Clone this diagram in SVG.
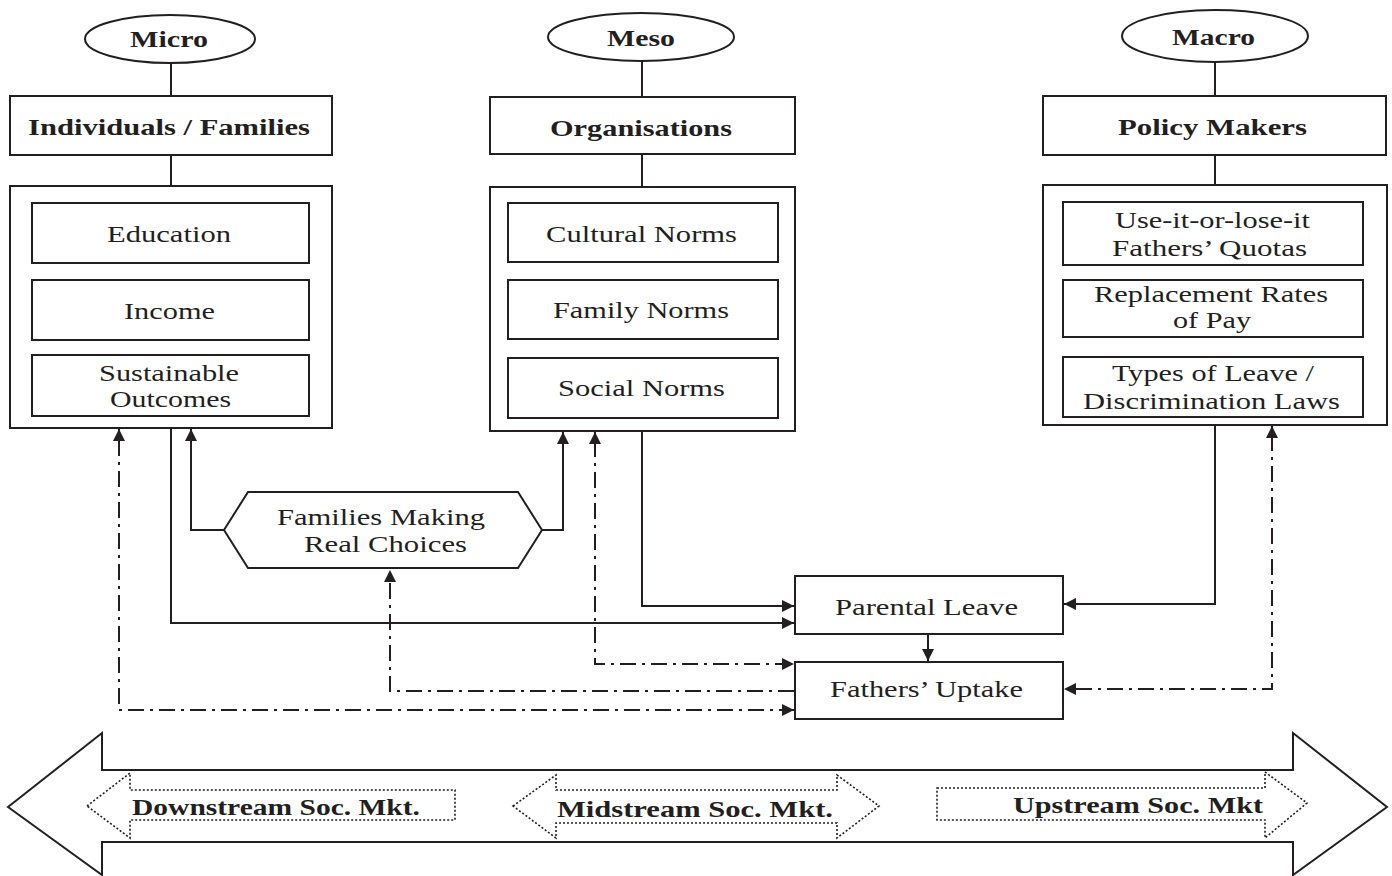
<svg xmlns="http://www.w3.org/2000/svg" width="1392" height="876" viewBox="0 0 1392 876">
<defs>
<style>
.b{fill:#fff;stroke:#231f20;stroke-width:2}
.t{font-family:"Liberation Serif","Times New Roman",serif;font-size:23px;fill:#231f20}
.tb{font-family:"Liberation Serif","Times New Roman",serif;font-size:23px;font-weight:bold;fill:#231f20}
.c{fill:none;stroke:#231f20;stroke-width:2}
.dd{fill:none;stroke:#231f20;stroke-width:2;stroke-dasharray:16 6 3 6}
.dot{fill:#fff;stroke:#231f20;stroke-width:1.6;stroke-dasharray:2 2}
</style>
<marker id="ah" viewBox="0 0 12 12" refX="12" refY="6" markerWidth="12" markerHeight="12" markerUnits="userSpaceOnUse" orient="auto">
<path d="M0,0 L12,6 L0,12 Z" fill="#231f20"/>
</marker>
</defs>
<rect width="1392" height="876" fill="#fff"/>

<g id="connectors">
<line class="c" x1="171" y1="63" x2="171" y2="96"/>
<line class="c" x1="171" y1="155" x2="171" y2="186"/>
<line class="c" x1="642" y1="61" x2="642" y2="97"/>
<line class="c" x1="642" y1="154" x2="642" y2="187"/>
<line class="c" x1="1215" y1="62" x2="1215" y2="96"/>
<line class="c" x1="1215" y1="155" x2="1215" y2="185"/>
<polyline class="c" points="171,428 171,623 794,623" marker-end="url(#ah)"/>
<polyline class="c" points="642,431 642,606 794,606" marker-end="url(#ah)"/>
<polyline class="c" points="1215,425 1215,604 1064,604" marker-end="url(#ah)"/>
<polyline class="c" points="928,634 928,661" marker-end="url(#ah)"/>
<polyline class="c" points="224,530 191,530 191,429" marker-end="url(#ah)"/>
<polyline class="c" points="542,530 563,530 563,432" marker-end="url(#ah)"/>
<polyline class="dd" points="1272,435 1272,689 1064,689" marker-end="url(#ah)"/>
<polyline class="c" points="1272,437 1272,426" marker-end="url(#ah)"/>
<polyline class="dd" points="595,441 595,664 794,664" marker-end="url(#ah)"/>
<polyline class="c" points="595,443 595,432" marker-end="url(#ah)"/>
<polyline class="dd" points="794,691 390,691 390,570" marker-end="url(#ah)"/>
<polyline class="dd" points="119,440 119,710 794,710" marker-end="url(#ah)"/>
<polyline class="c" points="119,442 119,429" marker-end="url(#ah)"/>
</g>

<g id="micro">
<ellipse class="b" cx="170" cy="39" rx="85" ry="24"/>
<text class="tb" x="130" y="47" textLength="78" lengthAdjust="spacingAndGlyphs">Micro</text>
</g>
<g id="meso">
<ellipse class="b" cx="641" cy="37" rx="93" ry="24"/>
<text class="tb" x="607" y="46" textLength="68" lengthAdjust="spacingAndGlyphs">Meso</text>
</g>
<g id="macro">
<ellipse class="b" cx="1215" cy="36" rx="93" ry="26"/>
<text class="tb" x="1172" y="45" textLength="83" lengthAdjust="spacingAndGlyphs">Macro</text>
</g>

<g id="individuals">
<rect class="b" x="10" y="96" width="322" height="59"/>
<text class="tb" x="28" y="135" textLength="282" lengthAdjust="spacingAndGlyphs">Individuals / Families</text>
</g>
<g id="organisations">
<rect class="b" x="490" y="97" width="305" height="57"/>
<text class="tb" x="550" y="136" textLength="182" lengthAdjust="spacingAndGlyphs">Organisations</text>
</g>
<g id="policy-makers">
<rect class="b" x="1043" y="96" width="343" height="59"/>
<text class="tb" x="1118" y="135" textLength="189" lengthAdjust="spacingAndGlyphs">Policy Makers</text>
</g>

<g id="micro-factors">
<rect class="b" x="10" y="186" width="322" height="242"/>
<rect class="b" x="32" y="203" width="277" height="60"/>
<text class="t" x="107" y="242" textLength="124" lengthAdjust="spacingAndGlyphs">Education</text>
<rect class="b" x="32" y="280" width="277" height="60"/>
<text class="t" x="124" y="319" textLength="91" lengthAdjust="spacingAndGlyphs">Income</text>
<rect class="b" x="32" y="355" width="277" height="61"/>
<text class="t" x="99" y="381" textLength="140" lengthAdjust="spacingAndGlyphs">Sustainable</text>
<text class="t" x="110" y="407" textLength="121" lengthAdjust="spacingAndGlyphs">Outcomes</text>
</g>

<g id="meso-factors">
<rect class="b" x="490" y="187" width="305" height="244"/>
<rect class="b" x="508" y="203" width="270" height="59"/>
<text class="t" x="546" y="242" textLength="191" lengthAdjust="spacingAndGlyphs">Cultural Norms</text>
<rect class="b" x="508" y="280" width="270" height="59"/>
<text class="t" x="553" y="318" textLength="176" lengthAdjust="spacingAndGlyphs">Family Norms</text>
<rect class="b" x="508" y="358" width="270" height="60"/>
<text class="t" x="558" y="396" textLength="167" lengthAdjust="spacingAndGlyphs">Social Norms</text>
</g>

<g id="macro-factors">
<rect class="b" x="1043" y="185" width="344" height="240"/>
<rect class="b" x="1063" y="202" width="300" height="63"/>
<text class="t" x="1115" y="228" textLength="195" lengthAdjust="spacingAndGlyphs">Use-it-or-lose-it</text>
<text class="t" x="1112" y="256" textLength="195" lengthAdjust="spacingAndGlyphs">Fathers’ Quotas</text>
<rect class="b" x="1063" y="280" width="300" height="57"/>
<text class="t" x="1094" y="302" textLength="234" lengthAdjust="spacingAndGlyphs">Replacement Rates</text>
<text class="t" x="1173" y="328" textLength="78" lengthAdjust="spacingAndGlyphs">of Pay</text>
<rect class="b" x="1063" y="357" width="300" height="60"/>
<text class="t" x="1112" y="381" textLength="202" lengthAdjust="spacingAndGlyphs">Types of Leave /</text>
<text class="t" x="1083" y="409" textLength="257" lengthAdjust="spacingAndGlyphs">Discrimination Laws</text>
</g>

<g id="families-choices">
<polygon class="b" points="224,530 248,492 518,492 542,530 518,568 248,568"/>
<text class="t" x="277" y="525" textLength="208" lengthAdjust="spacingAndGlyphs">Families Making</text>
<text class="t" x="304" y="552" textLength="163" lengthAdjust="spacingAndGlyphs">Real Choices</text>
</g>

<g id="parental-leave">
<rect class="b" x="795" y="576" width="268" height="58"/>
<text class="t" x="835" y="615" textLength="183" lengthAdjust="spacingAndGlyphs">Parental Leave</text>
</g>
<g id="fathers-uptake">
<rect class="b" x="795" y="662" width="268" height="57"/>
<text class="t" x="830" y="697" textLength="193" lengthAdjust="spacingAndGlyphs">Fathers’ Uptake</text>
</g>

<g id="spectrum">
<polygon class="b" points="8,807 102,733 102,770 1293,770 1293,733 1387,807 1293,875 1293,842 102,842 102,875"/>
</g>
<g id="downstream">
<polygon class="dot" points="87,806 130,773 130,790 455,790 455,820 130,820 130,838"/>
<text class="tb" x="132" y="815" textLength="288" lengthAdjust="spacingAndGlyphs">Downstream Soc. Mkt.</text>
</g>
<g id="midstream">
<polygon class="dot" points="513,806 556,775 556,790 837,790 837,775 879,806 837,838 837,823 556,823 556,838"/>
<text class="tb" x="557" y="817" textLength="276" lengthAdjust="spacingAndGlyphs">Midstream Soc. Mkt.</text>
</g>
<g id="upstream">
<polygon class="dot" points="937,788 1265,788 1265,772 1307,803 1265,838 1265,820 937,820"/>
<text class="tb" x="1013" y="813" textLength="250" lengthAdjust="spacingAndGlyphs">Upstream Soc. Mkt</text>
</g>
</svg>
